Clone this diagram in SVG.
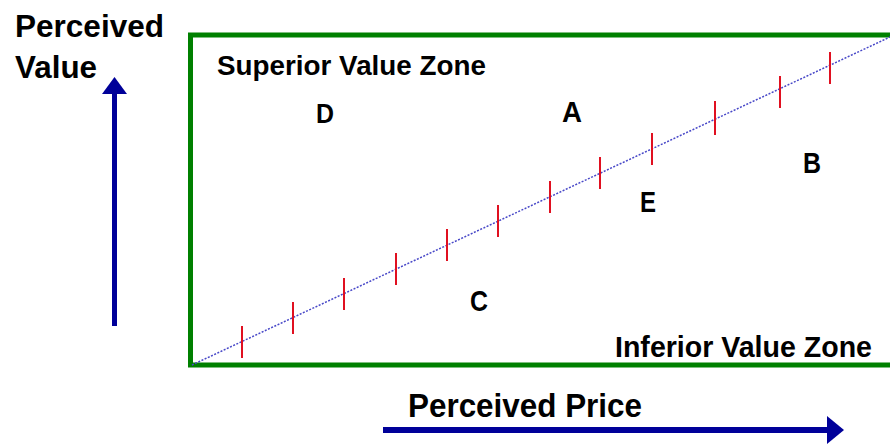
<svg xmlns="http://www.w3.org/2000/svg" width="890" height="444" viewBox="0 0 890 444">
<style>
.t{font-family:"Liberation Sans",Arial,sans-serif;font-weight:bold;fill:#000}
.tick{stroke:#e01020;stroke-width:2}
.arrow{fill:#000099;stroke:none}
</style>
<rect width="890" height="444" fill="#fff"/>
<g id="zone-frame">
<path d="M896 35 H190.5 V365 H896" fill="none" stroke="#008000" stroke-width="5"/>
</g>
<g id="connectors">
<line id="value-line" x1="192" y1="365" x2="890" y2="37" stroke="#4848c8" stroke-width="1.5" stroke-dasharray="2,1.5"/>
<g id="ticks" class="tick">
<line x1="242" y1="326" x2="242" y2="358"/>
<line x1="293" y1="302" x2="293" y2="334"/>
<line x1="344" y1="278" x2="344" y2="310"/>
<line x1="396" y1="253" x2="396" y2="285"/>
<line x1="447" y1="229" x2="447" y2="261"/>
<line x1="498" y1="205" x2="498" y2="237"/>
<line x1="550" y1="181" x2="550" y2="213"/>
<line x1="600" y1="157" x2="600" y2="189"/>
<line x1="652" y1="133" x2="652" y2="165"/>
<line x1="715" y1="101" x2="715" y2="135"/>
<line x1="780" y1="76" x2="780" y2="108"/>
<line x1="830" y1="52" x2="830" y2="84"/>
</g>
<g id="value-axis">
<rect class="arrow" x="112" y="92" width="5" height="234"/>
<polygon class="arrow" points="114.5,77 102,94 127,94"/>
</g>
<g id="price-axis">
<rect class="arrow" x="383" y="427" width="447" height="6"/>
<polygon class="arrow" points="844,430 827,416 827,444"/>
</g>
</g>
<g id="axis-labels">
<text class="t" x="15" y="36.5" font-size="32" textLength="149" lengthAdjust="spacingAndGlyphs">Perceived</text>
<text class="t" x="15" y="77.5" font-size="32" textLength="82" lengthAdjust="spacingAndGlyphs">Value</text>
<text class="t" x="408" y="416.5" font-size="34" textLength="234" lengthAdjust="spacingAndGlyphs">Perceived Price</text>
</g>
<g id="zone-labels">
<text class="t" x="217" y="75" font-size="28" textLength="269" lengthAdjust="spacingAndGlyphs">Superior Value Zone</text>
<text class="t" x="615" y="357" font-size="30" textLength="257" lengthAdjust="spacingAndGlyphs">Inferior Value Zone</text>
</g>
<g id="node-A"><text class="t" x="572" y="122" font-size="30" text-anchor="middle" textLength="20" lengthAdjust="spacingAndGlyphs">A</text></g>
<g id="node-B"><text class="t" x="812" y="173" font-size="30" text-anchor="middle" textLength="18" lengthAdjust="spacingAndGlyphs">B</text></g>
<g id="node-C"><text class="t" x="479" y="311" font-size="30" text-anchor="middle" textLength="18" lengthAdjust="spacingAndGlyphs">C</text></g>
<g id="node-D"><text class="t" x="325" y="123" font-size="28" text-anchor="middle" textLength="18" lengthAdjust="spacingAndGlyphs">D</text></g>
<g id="node-E"><text class="t" x="648" y="212" font-size="30" text-anchor="middle" textLength="16" lengthAdjust="spacingAndGlyphs">E</text></g>
</svg>
